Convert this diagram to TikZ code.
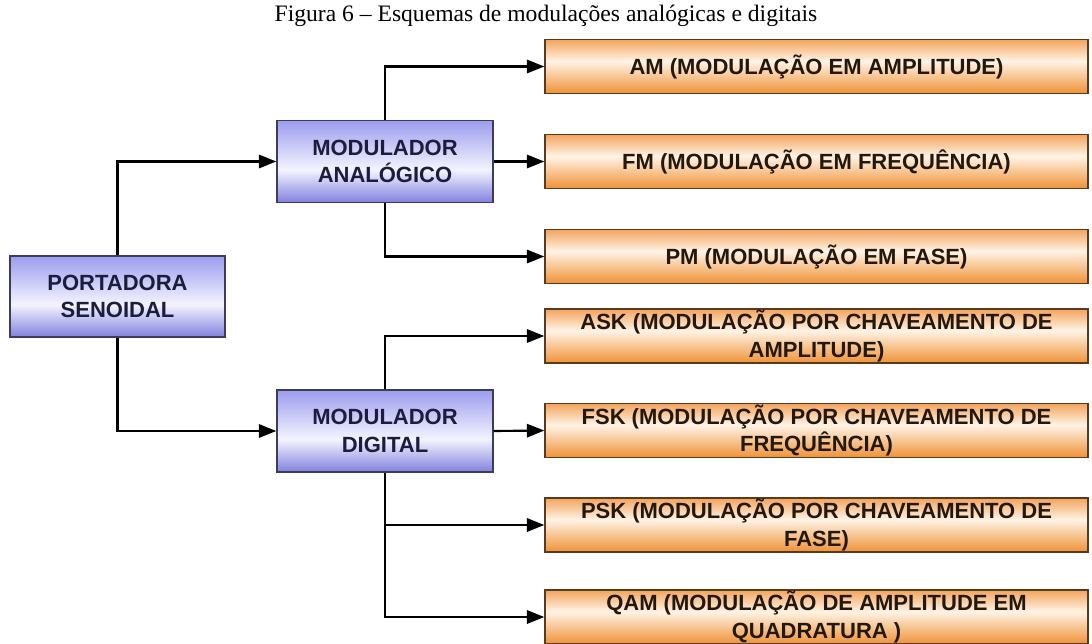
\documentclass[tikz,border=0pt]{standalone}
\usepackage{fontspec}
\setmainfont{Liberation Serif}
\setsansfont{Liberation Sans}
\usetikzlibrary{arrows.meta}

\definecolor{bluetop}{HTML}{9C9CEE}
\definecolor{bluemid}{HTML}{F4F4FF}
\definecolor{bluebot}{HTML}{8080DE}
\definecolor{blueline}{HTML}{3C3C5C}
\definecolor{bluetext}{HTML}{1C1C3C}
\definecolor{orgtop}{HTML}{F3A45C}
\definecolor{orgmid}{HTML}{FFF3E6}
\definecolor{orgbot}{HTML}{EF9236}
\definecolor{orgline}{HTML}{5A3A1C}
\definecolor{orgtext}{HTML}{22180E}

% vertical shadings: inner 25bp..75bp span the box from bottom to top
\pgfdeclareverticalshading{bluefill}{100bp}{color(0bp)=(bluebot); color(25bp)=(bluebot); color(45bp)=(bluemid); color(75bp)=(bluetop); color(100bp)=(bluetop)}
\pgfdeclareverticalshading{orgfill}{100bp}{color(0bp)=(orgbot); color(25bp)=(orgbot); color(55bp)=(orgmid); color(75bp)=(orgtop); color(100bp)=(orgtop)}

\tikzset{
  boxtext/.style={font=\sffamily\bfseries\fontsize{16.5}{20.5}\selectfont, align=center, inner sep=0pt},
  bluebox/.style={boxtext, shading=bluefill, draw=blueline, line width=1.1pt, text=bluetext,
    minimum width=162pt, minimum height=61.5pt},
  orgbox/.style={boxtext, shading=orgfill, draw=orgline, line width=1.1pt, text=orgtext,
    minimum width=407.25pt, minimum height=40.5pt},
  link/.style={line width=1.6pt, -{Triangle[length=13pt,width=10pt]}}
}

\begin{document}
\begin{tikzpicture}[x=0.75pt, y=-0.75pt]
\useasboundingbox (0,0) rectangle (1092,643);

\node[font=\fontsize{17.7}{21}\selectfont, anchor=base] (cap) at (546,21)
  {Figura 6 – Esquemas de modulações analógicas e digitais};

% carrier and the two modulators
\node[bluebox, minimum width=161.25pt, minimum height=60.75pt] (port) at (117.5,296.5) {PORTADORA\\SENOIDAL};
\node[bluebox] (ana) at (385,161.5) {MODULADOR\\ANALÓGICO};
\node[bluebox] (dig) at (385,431) {MODULADOR\\DIGITAL};

% modulation types
\node[orgbox] (am)  at (816.5,66.5)  {AM (MODULAÇÃO EM AMPLITUDE)};
\node[orgbox] (fm)  at (816.5,161.5) {FM (MODULAÇÃO EM FREQUÊNCIA)};
\node[orgbox] (pm)  at (816.5,256.5) {PM (MODULAÇÃO EM FASE)};
\node[orgbox] (ask) at (816.5,336)   {ASK (MODULAÇÃO POR CHAVEAMENTO DE\\AMPLITUDE)};
\node[orgbox] (fsk) at (816.5,430.5) {FSK (MODULAÇÃO POR CHAVEAMENTO DE\\FREQUÊNCIA)};
\node[orgbox] (psk) at (816.5,525)   {PSK (MODULAÇÃO POR CHAVEAMENTO DE\\FASE)};
\node[orgbox] (qam) at (816.5,617)   {QAM (MODULAÇÃO DE AMPLITUDE EM\\QUADRATURA )};

% connectors
\draw[link] (port.north) |- (ana.west);
\draw[link] (port.south) |- (dig.west);

\draw[link] (ana.north) |- (am.west);
\draw[link] (ana.east) -- (fm.west);
\draw[link] (ana.south) |- (pm.west);

\draw[link] (dig.north) |- (ask.west);
\draw[link] (dig.east) -- (fsk.west);
\draw[link] (dig.south) |- (psk.west);
\draw[link] (dig.south) |- (qam.west);
\end{tikzpicture}
\end{document}
